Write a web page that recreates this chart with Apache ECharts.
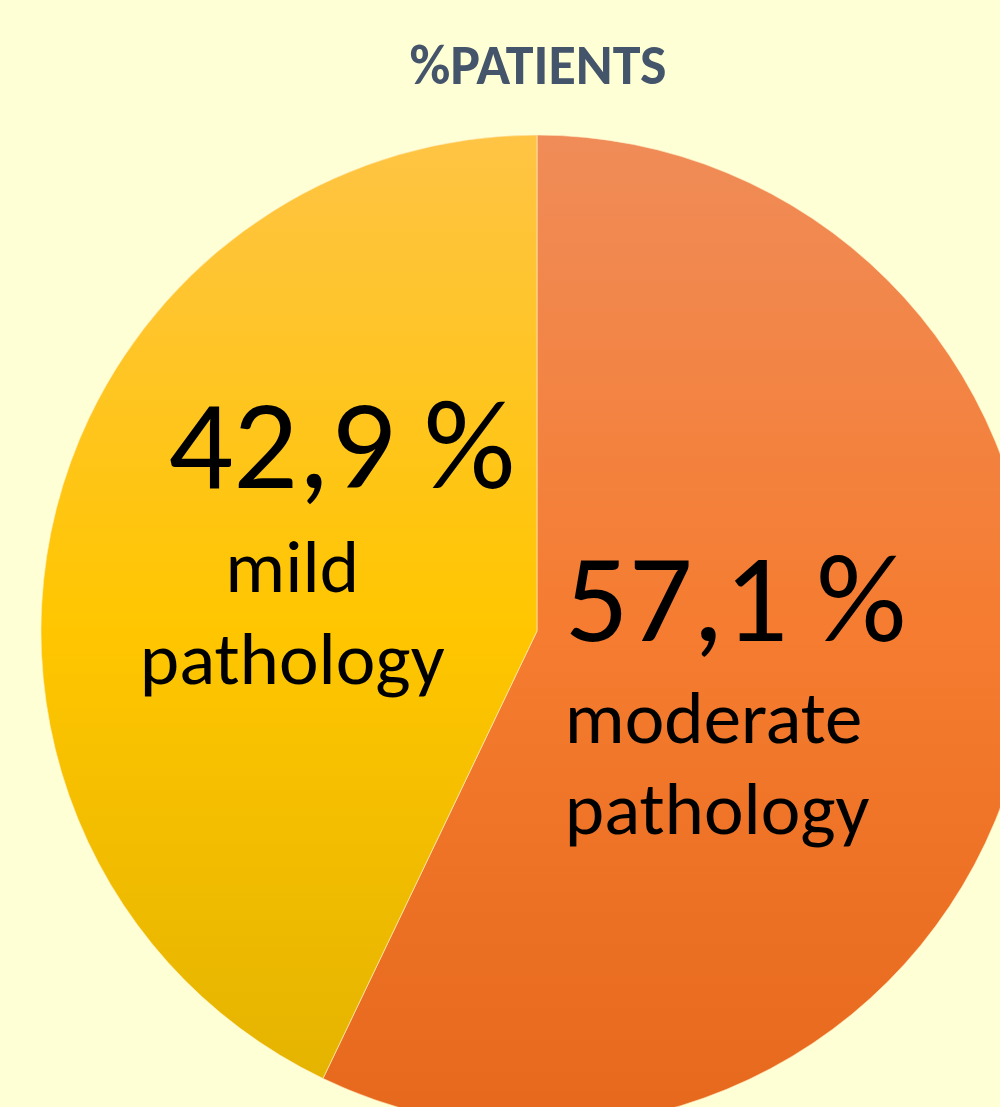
<!DOCTYPE html>
<html>
<head>
<meta charset="utf-8">
<script src="https://cdn.jsdelivr.net/npm/echarts@6/dist/echarts.min.js"></script>
<style>
html,body{margin:0;padding:0;background:#FFFFD5;}
#chart{width:1000px;height:1107px;}
</style>
</head>
<body>
<div id="chart"></div>
<script>
const title = '%PATIENTS';
const categories = ['moderate\npathology', 'mild\npathology'];
const values = [57.1, 42.9];

const chart = echarts.init(document.getElementById('chart'));
const FONT = 'Carlito, Lato, sans-serif';

function grad(stops) {
  return { type: 'linear', x: 0, y: 135, x2: 0, y2: 1127, global: true,
    colorStops: stops.map(s => ({ offset: s[0], color: s[1] })) };
}
const colors = [
  grad([[0, '#F08C58'], [0.5, '#F57C30'], [1, '#E6681C']]),
  grad([[0, '#FFC444'], [0.5, '#FFC600'], [1, '#E2B200']])
];

const data = categories.map((c, i) => ({
  name: c, value: values[i], itemStyle: { color: colors[i] }
}));

function fmt(v) { return v.toFixed(1).replace('.', ',') + ' %'; }

chart.setOption({
  backgroundColor: '#FFFFD5',
  animation: false,
  title: {
    text: title, left: 533, top: 37, textAlign: 'center',
    textStyle: { fontFamily: FONT, fontWeight: 'bold', fontSize: 56, color: '#44546A' }
  },
  series: [{
    type: 'pie',
    center: [537, 631],
    radius: 496,
    startAngle: 90,
    clockwise: true,
    itemStyle: { borderColor: 'rgba(255,240,200,0.6)', borderWidth: 1 },
    labelLine: { show: false },
    label: {
      show: true,
      position: 'inside',
      color: '#000',
      fontFamily: FONT,
      formatter: function (p) {
        const lines = p.name.split('\n');
        if (p.dataIndex === 0) {
          return '{nl|' + fmt(p.value) + '}\n' + lines.map(l => '{tl|' + l + '}').join('\n');
        }
        return '{nr|' + fmt(p.value) + '}\n' + lines.map(l => '{tc|' + l + '}').join('\n');
      },
      rich: {
        nl: { fontFamily: FONT, fontSize: 126, lineHeight: 139, width: 350, align: 'left', color: '#000' },
        tl: { fontFamily: FONT, fontSize: 75, lineHeight: 91, width: 350, align: 'left', color: '#000' },
        nr: { fontFamily: FONT, fontSize: 128, lineHeight: 142, width: 446, align: 'right', color: '#000' },
        tc: { fontFamily: FONT, fontSize: 75, lineHeight: 92, width: 446, align: 'center', color: '#000' }
      }
    },
    labelLayout: function (p) {
      return p.dataIndex === 0 ? { dx: -42, dy: 14 } : { dx: 0, dy: -27 };
    },
    data: data
  }]
});
</script>
</body>
</html>
